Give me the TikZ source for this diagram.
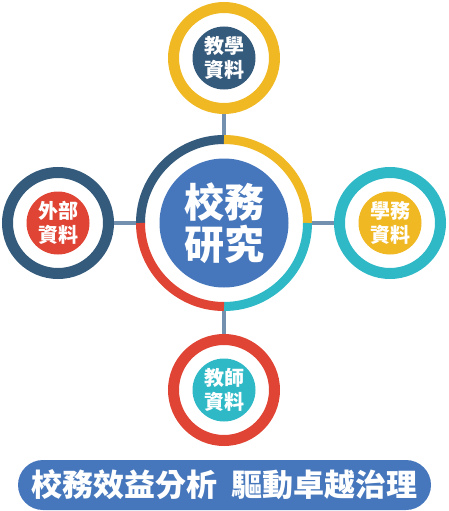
\documentclass[tikz,border=0pt]{standalone}
\usepackage{fontspec}
\newfontfamily\cjk{Noto Sans CJK TC}
\definecolor{slate}{HTML}{345A7C}
\definecolor{gold}{HTML}{F0B823}
\definecolor{teal}{HTML}{2FB9C6}
\definecolor{redc}{HTML}{E04434}
\definecolor{mainblue}{HTML}{4677BC}
\definecolor{conn}{HTML}{7390AE}
\begin{document}
\begin{tikzpicture}[x=1pt,y=-1pt,
  ring/.style={circle,draw=#1,fill=white,line width=11pt,minimum size=101pt,inner sep=0pt},
  disk/.style={circle,fill=#1,minimum size=63pt,inner sep=0pt,text=white,
    font=\cjk\bfseries\fontsize{20}{24}\selectfont,align=center},
  connline/.style={draw=conn,line width=3.5pt},
  seg/.style={line width=9pt,draw=#1}]
\useasboundingbox (0,0) rectangle (449,511);
\coordinate (ctop) at (224,58);
\coordinate (cbot) at (224,390);
\coordinate (cleft) at (58,223);
\coordinate (cright) at (390,223);
\coordinate (cmid) at (224,223);
\draw[connline] (ctop) -- (cbot);
\draw[connline] (cleft) -- (cright);
% satellites
\node[ring=gold] (topring) at (ctop) {};
\node[disk=slate] (topdisk) at (ctop) {教學\\資料};
\node[ring=slate] (leftring) at (cleft) {};
\node[disk=redc] (leftdisk) at (cleft) {外部\\資料};
\node[ring=teal] (rightring) at (cright) {};
\node[disk=gold] (rightdisk) at (cright) {學務\\資料};
\node[ring=redc] (botring) at (cbot) {};
\node[disk=teal] (botdisk) at (cbot) {教師\\資料};
% center ring (y axis points down: polar 270 = up on screen)
\fill[white] (cmid) circle (88);
\draw[seg=slate] (cmid) ++(270:83.5) arc[start angle=270,end angle=180,radius=83.5];
\draw[seg=gold] (cmid) ++(270:83.5) arc[start angle=270,end angle=360,radius=83.5];
\draw[seg=teal] (cmid) ++(0:83.5) arc[start angle=0,end angle=90,radius=83.5];
\draw[seg=redc] (cmid) ++(90:83.5) arc[start angle=90,end angle=180,radius=83.5];
\node[circle,fill=mainblue,minimum size=129pt,inner sep=0pt,text=white,
  font=\cjk\bfseries\fontsize{40}{42}\selectfont,align=center] (core) at (cmid) {校務\\研究};
% banner
\node[fill=mainblue,rounded corners=25pt,minimum width=413pt,minimum height=50pt,
  inner sep=0pt,text=white,font=\cjk\bfseries\fontsize{31}{33}\selectfont] (banner)
  at (224.5,485) {校務效益分析\hspace{0.45em}驅動卓越治理};
\end{tikzpicture}
\end{document}
